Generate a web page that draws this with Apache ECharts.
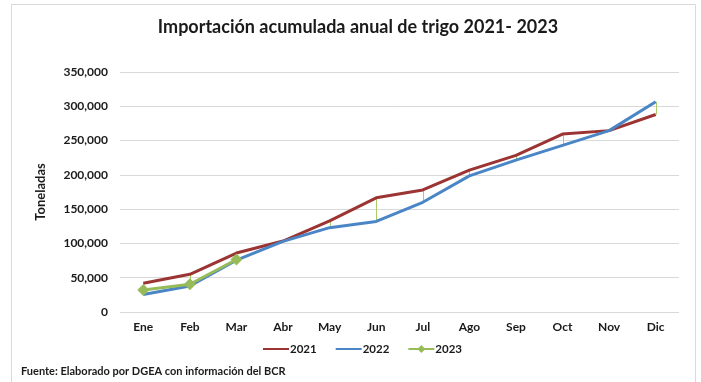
<!DOCTYPE html>
<html>
<head>
<meta charset="utf-8">
<script src="https://cdn.jsdelivr.net/npm/echarts@6/dist/echarts.min.js"></script>
<style>
html,body{margin:0;padding:0;background:#fff;}
#chart{width:701px;height:382px;}
</style>
</head>
<body>
<div id="chart"></div>
<script>
// Months (Spanish abbreviations)
const months = ['Ene','Feb','Mar','Abr','May','Jun','Jul','Ago','Sep','Oct','Nov','Dic'];
// Cumulative wheat imports (tonnes)
const imp2021 = [42000, 55000, 86000, 103500, 133000, 166500, 178000, 207000, 228500, 259500, 264500, 288000];
const imp2022 = [25500, 38000, 75500, 103000, 123000, 132000, 160000, 198500, 221500, 243000, 264500, 306500];
const imp2023 = [32000, 40500, 76500, null, null, null, null, null, null, null, null, null];

const fontFam = 'Lato, "Open Sans", sans-serif';
const ink = '#1a1a1a';

// High-low connector for each month: max and min over the available years
const hiLow = months.map((m, i) => {
  const vals = [imp2021[i], imp2022[i], imp2023[i]].filter(v => v != null);
  return [i, Math.max(...vals), Math.min(...vals)];
});

const chart = echarts.init(document.getElementById('chart'), null, {renderer: 'canvas'});
chart.setOption({
  animation: false,
  backgroundColor: '#fff',
  textStyle: {fontFamily: fontFam},
  title: {
    text: 'Importación acumulada anual de trigo 2021- 2023',
    left: 353, top: 13, textAlign: 'center',
    textStyle: {fontFamily: fontFam, fontSize: 18, fontWeight: 'bold', color: ink}
  },
  graphic: [
    {type: 'rect', shape: {x: 11.5, y: 4.5, width: 684, height: 400},
     style: {fill: 'none', stroke: '#d9d9d9', lineWidth: 1}, z: -1},
    {type: 'text', left: 21, top: 366,
     style: {text: 'Fuente: Elaborado por DGEA con información del BCR',
             font: 'bold 11px ' + fontFam, fill: ink}}
  ],
  legend: {
    data: [
      {name: '2021', itemStyle: {opacity: 0}},
      {name: '2022', itemStyle: {opacity: 0}},
      {name: '2023'}
    ],
    top: 338, left: 257,
    itemWidth: 26, itemHeight: 10, itemGap: 18,
    textStyle: {fontFamily: fontFam, fontSize: 11.5, fontWeight: 'bold', color: ink, padding: [0,0,0,-4]}
  },
  grid: {left: 120, right: 22, top: 72, bottom: 70, containLabel: false},
  xAxis: {
    type: 'category', data: months, boundaryGap: true,
    axisLine: {show: false}, axisTick: {show: false},
    axisLabel: {fontFamily: fontFam, fontSize: 12, fontWeight: 'bold', color: ink, margin: 9}
  },
  yAxis: {
    type: 'value', min: 0, max: 350000, interval: 50000,
    name: 'Toneladas', nameLocation: 'middle', nameGap: 73, nameRotate: 90,
    nameTextStyle: {fontFamily: fontFam, fontSize: 13, fontWeight: 'bold', color: ink},
    axisLine: {show: false}, axisTick: {show: false},
    axisLabel: {fontFamily: fontFam, fontSize: 12, fontWeight: 'bold', color: ink, margin: 12,
      formatter: v => v.toLocaleString('en-US')},
    splitLine: {lineStyle: {color: '#d9d9d9', width: 1}}
  },
  series: [
    {
      name: 'hilo', type: 'custom', z: 1, silent: true,
      data: hiLow,
      renderItem: (params, api) => {
        const top = api.coord([api.value(0), api.value(1)]);
        const bot = api.coord([api.value(0), api.value(2)]);
        return {type: 'line',
          shape: {x1: Math.round(top[0]) + 0.5, y1: top[1], x2: Math.round(bot[0]) + 0.5, y2: bot[1]},
          style: {stroke: '#a9cd6b', lineWidth: 1}};
      }
    },
    {name: '2021', type: 'line', data: imp2021, symbol: 'none', z: 3,
     lineStyle: {color: '#9b3432', width: 3}, itemStyle: {color: '#9b3432'}},
    {name: '2022', type: 'line', data: imp2022, symbol: 'none', z: 3,
     lineStyle: {color: '#4a86c6', width: 3}, itemStyle: {color: '#4a86c6'}},
    {name: '2023', type: 'line', data: imp2023, symbol: 'diamond', symbolSize: 12, z: 4,
     lineStyle: {color: '#98bb5a', width: 3}, itemStyle: {color: '#98bb5a'}}
  ]
});
</script>
</body>
</html>
